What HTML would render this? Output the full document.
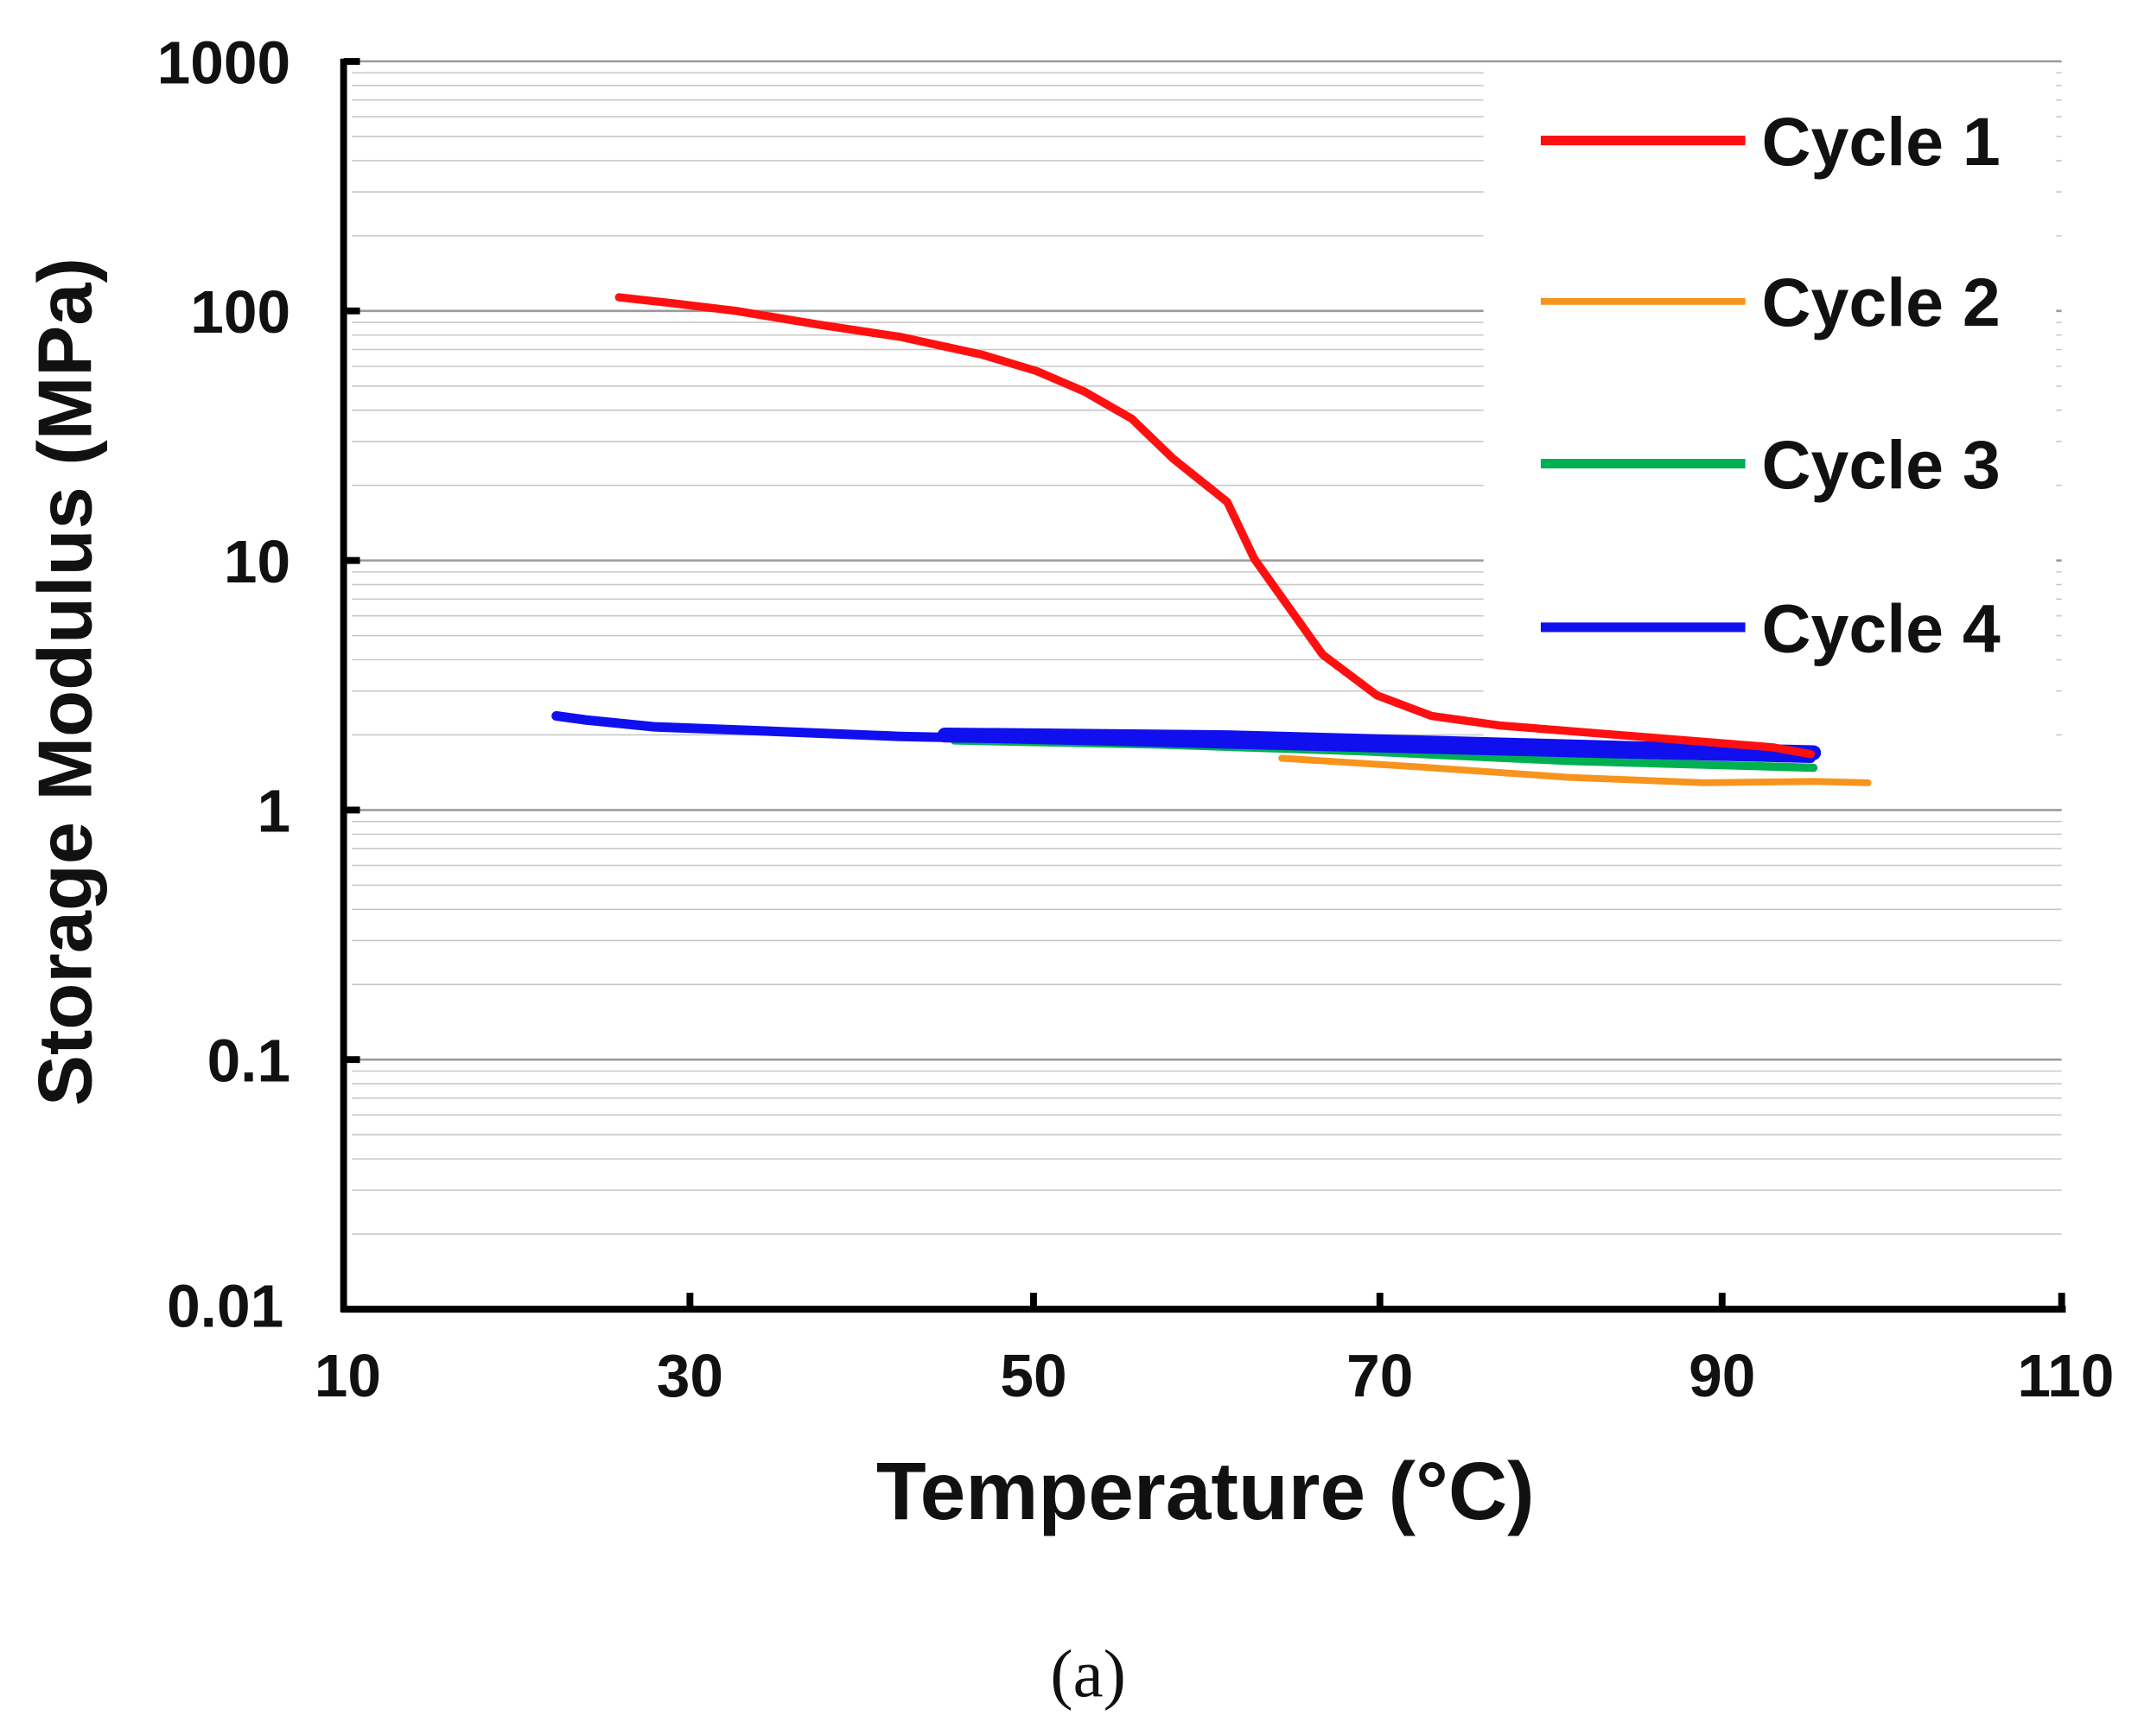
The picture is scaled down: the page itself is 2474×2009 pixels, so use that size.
<!DOCTYPE html>
<html><head><style>html,body{margin:0;padding:0;background:#fff;}svg{display:block}</style></head>
<body>
<svg width="2474" height="2009" viewBox="0 0 1568 1273" preserveAspectRatio="none" xmlns="http://www.w3.org/2000/svg" xmlns:xlink="http://www.w3.org/1999/xlink" font-family="Liberation Sans, sans-serif">
<defs>
<g id="dec" stroke="#c8c8c8" stroke-width="1">
<line x1="258" x2="1512" y1="-55.1" y2="-55.1"/>
<line x1="258" x2="1512" y1="-87.3" y2="-87.3"/>
<line x1="258" x2="1512" y1="-110.2" y2="-110.2"/>
<line x1="258" x2="1512" y1="-127.9" y2="-127.9"/>
<line x1="258" x2="1512" y1="-142.4" y2="-142.4"/>
<line x1="258" x2="1512" y1="-154.7" y2="-154.7"/>
<line x1="258" x2="1512" y1="-165.3" y2="-165.3"/>
<line x1="258" x2="1512" y1="-174.6" y2="-174.6"/>
<line x1="258" x2="1512" y1="-183" y2="-183" stroke="#9a9a9a" stroke-width="1.6"/>
</g>
</defs>
<use xlink:href="#dec" href="#dec" x="0" y="960"/>
<use xlink:href="#dec" href="#dec" x="0" y="777"/>
<use xlink:href="#dec" href="#dec" x="0" y="594"/>
<use xlink:href="#dec" href="#dec" x="0" y="411"/>
<use xlink:href="#dec" href="#dec" x="0" y="228"/>
<rect x="1088" y="47" width="420" height="493" fill="#fff"/>
<g stroke="#000" stroke-width="5" fill="none">
<line x1="252" y1="43" x2="252" y2="962"/>
<line x1="250" y1="960" x2="1515" y2="960"/>
<line x1="252" y1="45" x2="264" y2="45"/><line x1="252" y1="228" x2="264" y2="228"/><line x1="252" y1="411" x2="264" y2="411"/><line x1="252" y1="594" x2="264" y2="594"/><line x1="252" y1="777" x2="264" y2="777"/>
<line x1="506" y1="948" x2="506" y2="960"/><line x1="758" y1="948" x2="758" y2="960"/><line x1="1012" y1="948" x2="1012" y2="960"/><line x1="1263" y1="948" x2="1263" y2="960"/><line x1="1512" y1="948" x2="1512" y2="960"/>
</g>
<g font-weight="bold" font-size="44" text-anchor="end" fill="#111">
<text x="213" y="61">1000</text><text x="213" y="244">100</text><text x="213" y="427">10</text><text x="213" y="610">1</text><text x="213" y="793">0.1</text><text x="208" y="973">0.01</text>
</g>
<g font-weight="bold" font-size="44" text-anchor="middle" fill="#111">
<text x="255" y="1024">10</text><text x="506" y="1024">30</text><text x="758" y="1024">50</text><text x="1012" y="1024">70</text><text x="1263" y="1024">90</text><text x="1515" y="1024">110</text>
</g>
<text x="884" y="1114" font-weight="bold" font-size="60" text-anchor="middle" fill="#111">Temperature (°C)</text>
<text transform="translate(67,500) rotate(-90)" font-weight="bold" font-size="56" text-anchor="middle" fill="#111">Storage Modulus (MPa)</text>
<text x="798" y="1244" font-family="Liberation Serif, serif" font-size="50" text-anchor="middle" fill="#111">(a)</text>
<g fill="none" stroke-linejoin="round" stroke-linecap="round">
<polyline stroke="#f7941d" stroke-width="5" points="940,556 1050,563 1150,570 1250,574 1330,573 1370,574"/>
<polyline stroke="#00b050" stroke-width="6" points="700,543 850,546 1000,551 1150,558 1330,563"/>
<polyline stroke="#1010ee" stroke-width="11" points="693,539 900,541 1050,545 1200,549 1330,552"/>
<polyline stroke="#1010ee" stroke-width="7" points="408,525 430,528 480,533 560,536 660,540 800,543 1000,548 1200,553 1328,556"/>
<polyline stroke="#ff1010" stroke-width="6" points="454,218 490,222 540,228 600,238 660,247 720,260 760,272 795,287 830,307 860,336 900,368 920,410 970,480 1010,510 1050,525 1100,532 1200,540 1300,548 1328,553"/>
</g>
<g stroke-width="7">
<line x1="1130" x2="1280" y1="103" y2="103" stroke="#ff1010"/>
<line x1="1130" x2="1280" y1="221" y2="221" stroke="#f7941d" stroke-width="5"/>
<line x1="1130" x2="1280" y1="340" y2="340" stroke="#00b050"/>
<line x1="1130" x2="1280" y1="460" y2="460" stroke="#1010ee"/>
</g>
<g font-weight="bold" font-size="50" fill="#111">
<text x="1292" y="121">Cycle 1</text><text x="1292" y="239">Cycle 2</text><text x="1292" y="358">Cycle 3</text><text x="1292" y="478">Cycle 4</text>
</g>
</svg>
</body></html>
